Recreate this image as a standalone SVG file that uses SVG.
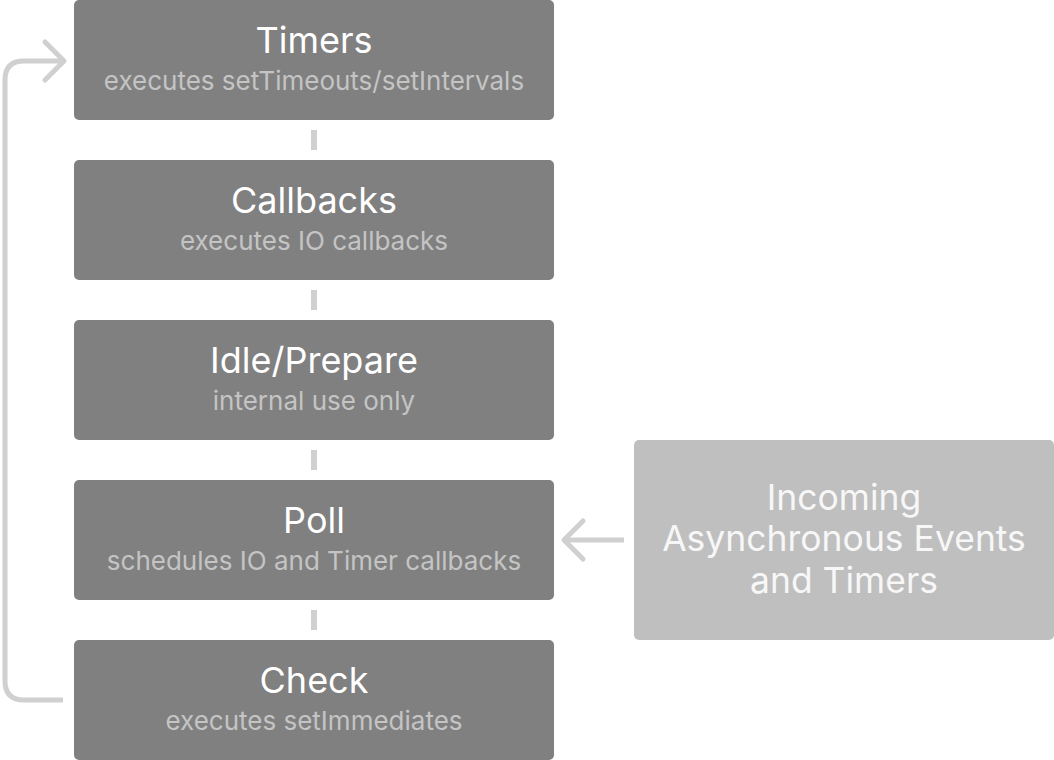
<svg xmlns="http://www.w3.org/2000/svg" width="1054" height="760" viewBox="0 0 1054 760">
<style>
.box{fill:#808080}
.ext{fill:#bfbfbf}
.t{font-family:Inter,"Open Sans","Liberation Sans",sans-serif;font-size:36px;fill:#ffffff;text-anchor:middle}
.s{font-family:Inter,"Open Sans","Liberation Sans",sans-serif;font-size:26px;fill:#c4c4c4;text-anchor:middle}
.e{font-family:Inter,"Open Sans","Liberation Sans",sans-serif;font-size:35.5px;fill:#f7f7f7;text-anchor:middle}
.c{fill:none;stroke:#d0d0d0;stroke-width:5;stroke-linecap:round;stroke-linejoin:round}
.d{fill:#d0d0d0}
</style>
<rect width="1054" height="760" fill="#ffffff"/>
<g id="connectors">
<rect class="d" x="311" y="130" width="6" height="20"/>
<rect class="d" x="311" y="290" width="6" height="20"/>
<rect class="d" x="311" y="450" width="6" height="20"/>
<rect class="d" x="311" y="610" width="6" height="20"/>
<path class="c" d="M63 700 H24 Q5 700 5 681 V80 Q5 61 24 61 H64" style="stroke-linecap:butt"/>
<path class="c" d="M45 42 L64 61 L45 80"/>
<path class="c" d="M624 540 H564" style="stroke-linecap:butt"/>
<path class="c" d="M583 521 L564 540 L583 559"/>
</g>
<g id="timers">
<rect class="box" x="74" y="0" width="480" height="120" rx="5"/>
<text class="t" x="314" y="53">Timers</text>
<text class="s" x="314" y="90">executes setTimeouts/setIntervals</text>
</g>
<g id="callbacks">
<rect class="box" x="74" y="160" width="480" height="120" rx="5"/>
<text class="t" x="314" y="213">Callbacks</text>
<text class="s" x="314" y="250">executes IO callbacks</text>
</g>
<g id="idle">
<rect class="box" x="74" y="320" width="480" height="120" rx="5"/>
<text class="t" x="314" y="373">Idle/Prepare</text>
<text class="s" x="314" y="410">internal use only</text>
</g>
<g id="poll">
<rect class="box" x="74" y="480" width="480" height="120" rx="5"/>
<text class="t" x="314" y="533">Poll</text>
<text class="s" x="314" y="570">schedules IO and Timer callbacks</text>
</g>
<g id="check">
<rect class="box" x="74" y="640" width="480" height="120" rx="5"/>
<text class="t" x="314" y="693">Check</text>
<text class="s" x="314" y="730">executes setImmediates</text>
</g>
<g id="incoming">
<rect class="ext" x="634" y="440" width="420" height="200" rx="5"/>
<text class="e" x="844" y="510">Incoming</text>
<text class="e" x="844" y="551">Asynchronous Events</text>
<text class="e" x="844" y="593">and Timers</text>
</g>
</svg>
